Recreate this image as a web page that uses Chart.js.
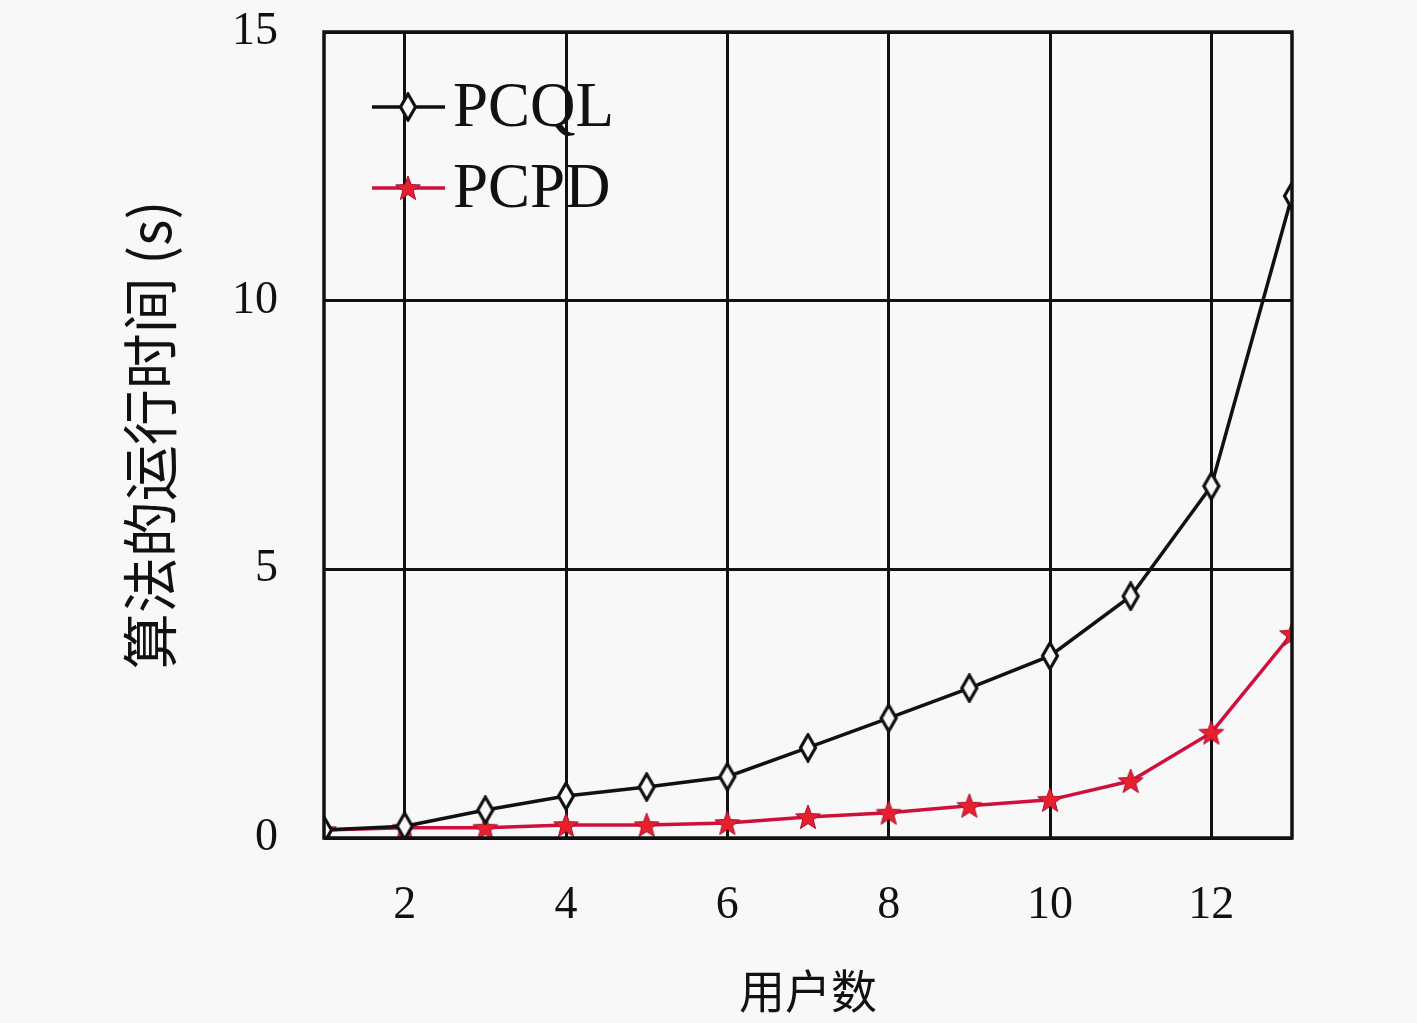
<!DOCTYPE html>
<html>
<head>
<meta charset="utf-8">
<script src="https://cdn.jsdelivr.net/npm/chart.js@4.4.1/dist/chart.umd.min.js"></script>
<style>
html,body{margin:0;padding:0;background:#f8f8f8;}
#wrap{width:1417px;height:1023px;position:relative;}
</style>
</head>
<body>
<div id="wrap"><canvas id="c" width="1417" height="1023"></canvas></div>
<script>
const users = [1,2,3,4,5,6,7,8,9,10,11,12,13];
const pcql = [0.15,0.22,0.52,0.78,0.95,1.14,1.68,2.23,2.79,3.39,4.5,6.55,11.95];
const pcpd = [0.15,0.19,0.19,0.24,0.24,0.28,0.39,0.47,0.6,0.71,1.06,1.96,3.8];
const xTicks = [2,4,6,8,10,12];
const yTicks = [0,5,10,15];
const seriesNames = ['PCQL','PCPD'];
const xTitle = '用户数';
const yTitle = '算法的运行时间 (s)';

function diamondImg(){
  const c=document.createElement('canvas');c.width=22;c.height=30;
  const g=c.getContext('2d');
  g.beginPath();g.moveTo(11,2);g.lineTo(18.5,15);g.lineTo(11,28);g.lineTo(3.5,15);g.closePath();
  g.fillStyle='#f8f8f8';g.fill();g.lineWidth=3.2;g.strokeStyle='#111';g.stroke();
  return c;
}
function starImg(){
  const c=document.createElement('canvas');c.width=30;c.height=30;
  const g=c.getContext('2d');
  const cx=15,cy=16,R=13,r=5.5;
  g.beginPath();
  for(let i=0;i<10;i++){
    const a=-Math.PI/2+i*Math.PI/5;const rr=i%2?r:R;
    const px=cx+rr*Math.cos(a),py=cy+rr*Math.sin(a);
    i?g.lineTo(px,py):g.moveTo(px,py);
  }
  g.closePath();g.fillStyle='#e8202e';g.fill();g.lineWidth=1;g.strokeStyle='#a01030';g.stroke();
  return c;
}
const dImg=diamondImg(), sImg=starImg();

const bgPlugin={id:'bg',beforeDraw(ch){const g=ch.ctx;g.save();g.fillStyle='#f8f8f8';g.fillRect(0,0,ch.width,ch.height);g.restore();}};
const boxPlugin={id:'box',afterDatasetsDraw(ch){
  const a=ch.chartArea,g=ch.ctx;g.save();g.strokeStyle='#111';g.lineWidth=3.5;
  g.strokeRect(a.left,a.top,a.right-a.left,a.bottom-a.top);g.restore();}};
const legendPlugin={id:'leg',afterDraw(ch){
  const g=ch.ctx;g.save();
  const rows=[{y:107,img:dImg},{y:188,img:sImg}];
  ch.data.datasets.forEach((ds,i)=>{
    const r=rows[i];
    g.strokeStyle=ds.borderColor;g.lineWidth=3.5;
    g.beginPath();g.moveTo(372,r.y);g.lineTo(445,r.y);g.stroke();
    g.drawImage(r.img,408-r.img.width/2,r.y-r.img.height/2);
    g.fillStyle='#111';g.font='63px "Liberation Serif"';g.textBaseline='middle';g.textAlign='left';
    g.fillText(ds.label,453,r.y+2);
  });
  g.restore();}};

new Chart(document.getElementById('c'),{
  type:'line',
  data:{labels:users,datasets:[
    {label:seriesNames[0],data:users.map((u,i)=>({x:u,y:pcql[i]})),borderColor:'#111',borderWidth:3.5,pointStyle:dImg,pointRadius:11,tension:0},
    {label:seriesNames[1],data:users.map((u,i)=>({x:u,y:pcpd[i]})),borderColor:'#d0103c',borderWidth:3.5,pointStyle:sImg,pointRadius:13,tension:0}
  ]},
  options:{
    responsive:false,animation:false,devicePixelRatio:1,
    layout:{padding:{top:32,right:125,left:0,bottom:0}},
    plugins:{legend:{display:false},tooltip:{enabled:false}},
    scales:{
      x:{type:'linear',min:1,max:13,
        afterBuildTicks(s){s.ticks=xTicks.map(v=>({value:v}));},
        afterFit(s){s.height=185;s.paddingLeft=0;s.paddingRight=0;},
        grid:{color:'#111',lineWidth:3,drawTicks:false},border:{display:false},
        ticks:{font:{family:'Liberation Serif',size:46},color:'#111',padding:40,maxRotation:0},
        title:{display:true,text:xTitle,font:{family:'Noto Sans CJK SC',size:46},color:'#111',padding:{top:0,bottom:5}}
      },
      y:{type:'linear',min:0,max:15,
        afterBuildTicks(s){s.ticks=yTicks.map(v=>({value:v}));},
        afterFit(s){s.width=324;s.paddingTop=0;s.paddingBottom=0;},
        grid:{color:'#111',lineWidth:3,drawTicks:false},border:{display:false},
        ticks:{font:{family:'Liberation Serif',size:46},color:'#111',padding:46},
        title:{display:true,text:yTitle,font:{family:'Noto Sans CJK SC',size:56},color:'#111',padding:{top:116,bottom:0}}
      }
    }
  },
  plugins:[bgPlugin,boxPlugin,legendPlugin]
});
</script>
</body>
</html>
